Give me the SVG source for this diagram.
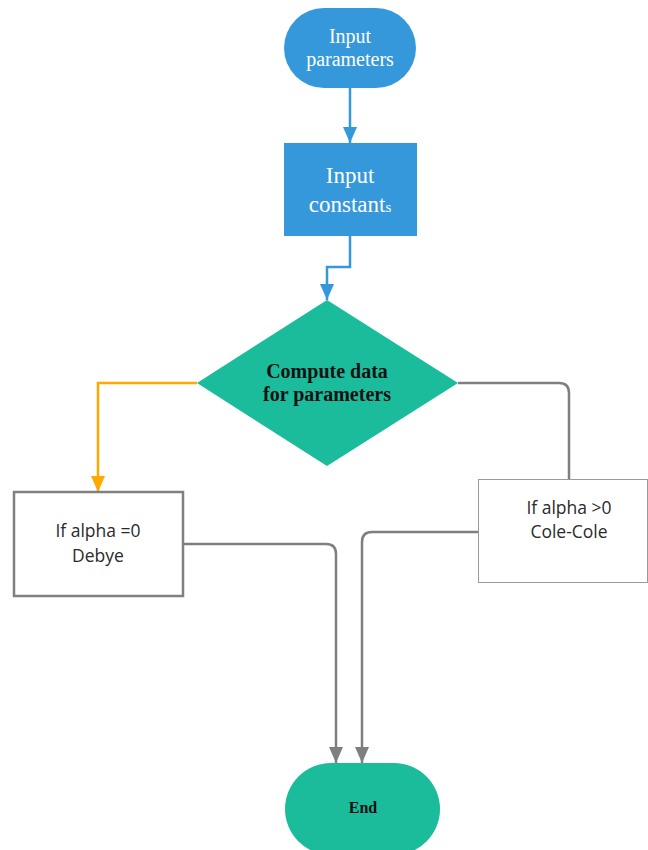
<svg xmlns="http://www.w3.org/2000/svg" width="648" height="850" viewBox="0 0 648 850">
<style>
.blue{fill:#3598db}
.teal{fill:#1abc9c}
.serifw{font-family:"Liberation Serif","Times New Roman",serif;fill:#fff;text-anchor:middle}
.serifb{font-family:"Liberation Serif","Times New Roman",serif;font-weight:bold;fill:#111;text-anchor:middle}
.sans{font-family:"Open Sans","Noto Sans",sans-serif;font-size:17.5px;fill:#2a2a2a;text-anchor:middle}
.c{fill:none;stroke-width:2.5}
</style>
<defs>
<marker id="ab" markerUnits="userSpaceOnUse" markerWidth="18" markerHeight="14" refX="16" refY="7" orient="auto"><path d="M0,0 L16,7 L0,14 Z" fill="#3598db"/></marker>
<marker id="ao" markerUnits="userSpaceOnUse" markerWidth="18" markerHeight="14" refX="16" refY="7" orient="auto"><path d="M0,0 L16,7 L0,14 Z" fill="#ffa800"/></marker>
<marker id="ag" markerUnits="userSpaceOnUse" markerWidth="18" markerHeight="14" refX="16" refY="7" orient="auto"><path d="M0,0 L16,7 L0,14 Z" fill="#7f7f7f"/></marker>
</defs>
<rect width="648" height="850" fill="#fff"/>
<g id="connectors">
<path class="c" stroke="#3598db" d="M350,88 L350,143" marker-end="url(#ab)"/>
<path class="c" stroke="#3598db" d="M350,236 L350,267 L327,267 L327,300" marker-end="url(#ab)"/>
<path class="c" stroke="#ffa800" d="M197,383 L98,383 L98,492" marker-end="url(#ao)"/>
<path class="c" stroke="#7f7f7f" d="M458,383 L559,383 Q569,383 569,393 L569,479"/>
<path class="c" stroke="#7f7f7f" d="M183,544 L326,544 Q336,544 336,554 L336,763" marker-end="url(#ag)"/>
<path class="c" stroke="#7f7f7f" d="M478,532 L372,532 Q362,532 362,542 L362,763" marker-end="url(#ag)"/>
</g>
<g id="input-parameters">
<rect class="blue" x="284" y="8" width="132" height="80" rx="40"/>
<text class="serifw" font-size="20" x="350" y="43">Input</text>
<text class="serifw" font-size="20" x="350" y="66">parameters</text>
</g>
<g id="input-constants">
<rect class="blue" x="284" y="143" width="133" height="93"/>
<text class="serifw" font-size="23" x="350" y="183">Input</text>
<text class="serifw" font-size="23" x="350" y="212">constant<tspan font-size="15">s</tspan></text>
</g>
<g id="compute">
<path class="teal" d="M327,300 L458,383 L327,466 L197,383 Z"/>
<text class="serifb" font-size="20" x="327" y="378">Compute data</text>
<text class="serifb" font-size="20" x="327" y="401">for parameters</text>
</g>
<g id="debye">
<rect x="14" y="492" width="169" height="104" fill="#fff" stroke="#808080" stroke-width="2.5"/>
<text class="sans" x="98" y="537">If alpha =0</text>
<text class="sans" x="98" y="562">Debye</text>
</g>
<g id="colecole">
<rect x="478.5" y="479.5" width="169" height="103" fill="#fff" stroke="#9a9a9a" stroke-width="1"/>
<text class="sans" x="569" y="514">If alpha &gt;0</text>
<text class="sans" x="569" y="538">Cole-Cole</text>
</g>
<g id="end">
<rect class="teal" x="285" y="763" width="155" height="92" rx="46"/>
<text class="serifb" font-size="16" x="363" y="813">End</text>
</g>
</svg>
